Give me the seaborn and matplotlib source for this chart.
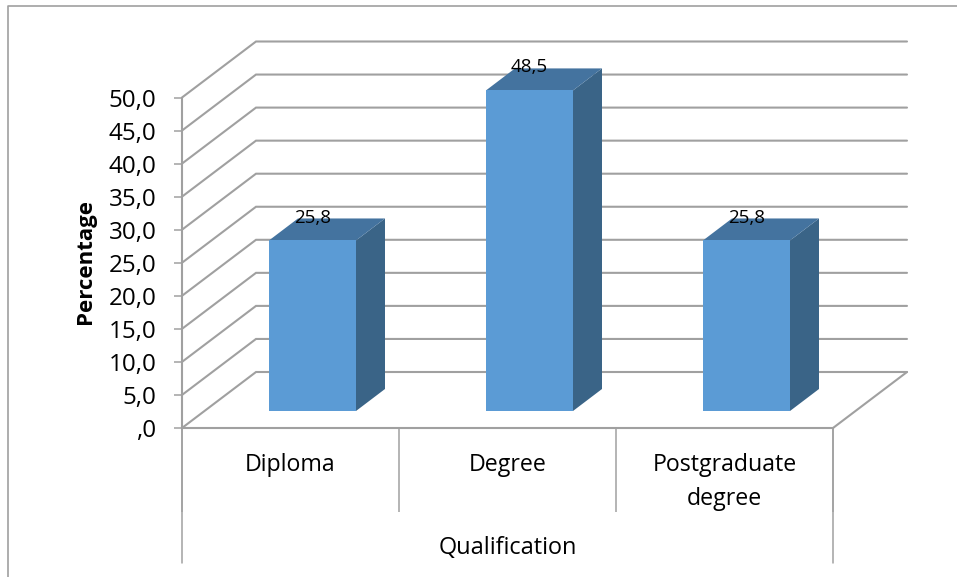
import matplotlib
matplotlib.use("Agg")
import matplotlib.pyplot as plt
from matplotlib.lines import Line2D
from matplotlib.patches import Polygon
import numpy as np
import pandas as pd
import seaborn as sns

categories = ["Diploma", "Degree", "Postgraduate\ndegree"]
values = [25.8, 48.5, 25.8]
value_labels = ["25,8", "48,5", "25,8"]
y_ticks = [0, 5, 10, 15, 20, 25, 30, 35, 40, 45, 50]
y_tick_labels = [",0", "5,0", "10,0", "15,0", "20,0", "25,0", "30,0", "35,0", "40,0", "45,0", "50,0"]
x_title = "Qualification"
y_title = "Percentage"

sns.set_theme(style="white")
plt.rcParams["font.family"] = ["Open Sans", "DejaVu Sans"]

W, H = 957, 577
GRAY = "#A0A0A0"
FRONT, TOP, SIDE = "#5B9BD5", "#44739F", "#3A6487"


def box(x0, x1, y_top, y_bot):
    return [x0 / W, 1 - y_bot / H, (x1 - x0) / W, (y_bot - y_top) / H]


fig = plt.figure(figsize=(W / 100, H / 100), dpi=100, facecolor="white")
ax = fig.add_axes(box(182, 833, 97.5, 428))
ax_bars = fig.add_axes(box(204, 855, 80.5, 411))

# chart frame
fig.add_artist(Line2D([8 / W, 8 / W, 1], [0, 1 - 5.5 / H, 1 - 5.5 / H], color=GRAY, lw=1.2))

ax.set_xlim(-0.5, 2.5)
ax.set_ylim(0, 50)
unit_x = 651 / 3
unit_y = 330.5 / 50

# wall and floor
wall_dx, wall_dy = 74 / unit_x, 56 / unit_y
for v in y_ticks:
    ax.plot([-0.5, -0.5 + wall_dx, 2.5 + wall_dx], [v, v + wall_dy, v + wall_dy],
            color=GRAY, lw=1.5, clip_on=False, zorder=1, solid_joinstyle="miter")
ax.plot([2.5, 2.5 + wall_dx], [0, wall_dy], color=GRAY, lw=1.5, clip_on=False, zorder=1)

# axis furniture
ax.set_yticks(y_ticks, y_tick_labels)
ax.set_xticks(range(len(categories)), categories)
ax.set_xticks([-0.5, 0.5, 1.5, 2.5], minor=True)
ax.tick_params(axis="y", length=5.8, width=1.1, color=GRAY, pad=12.5, labelsize=17.4, labelcolor="black", left=True)
ax.tick_params(axis="x", which="major", length=0, pad=17.8, labelsize=16.7, labelcolor="black")
ax.tick_params(axis="x", which="minor", length=60.5, width=1.1, color=GRAY, bottom=True)
for lab in ax.get_xticklabels():
    lab.set_linespacing(1.56)
for x in (-0.5, 2.5):
    ax.plot([x, x], [0, -135 / unit_y], color=GRAY, lw=1.1, clip_on=False, zorder=1)
for s in ("top", "right"):
    ax.spines[s].set_visible(False)
for s in ("left", "bottom"):
    ax.spines[s].set_color(GRAY)
    ax.spines[s].set_linewidth(1.5)
ax.set_xlabel(x_title, fontsize=16.9, color="black", va="center")
ax.xaxis.set_label_coords(0.5, (428 - 548.5) / 330.5)
ax.set_ylabel(y_title, fontsize=16, fontweight="bold", color="black", va="center")
ax.yaxis.set_label_coords((86 - 182) / 651, 0.505)

# bars
df = pd.DataFrame({"category": categories, "value": values})
sns.barplot(data=df, x="category", y="value", ax=ax_bars, color=FRONT, saturation=1,
            width=87 / unit_x, errorbar=None, zorder=3, linewidth=0, edgecolor="none")
ax_bars.set_xlim(-0.5, 2.5)
ax_bars.set_ylim(0, 50)
ax_bars.axis("off")
ax_bars.patch.set_visible(False)

depth_x, depth_y = 29 / unit_x, 22 / unit_y
for bar, label in zip(list(ax_bars.patches), value_labels):
    x0, x1 = bar.get_x(), bar.get_x() + bar.get_width()
    h = bar.get_height()
    ax_bars.add_patch(Polygon([(x1, 0), (x1 + depth_x, depth_y), (x1 + depth_x, h + depth_y), (x1, h)],
                              closed=True, fc=SIDE, ec="none", clip_on=False, zorder=2))
    ax_bars.add_patch(Polygon([(x0, h), (x0 + depth_x, h + depth_y), (x1 + depth_x, h + depth_y), (x1, h)],
                              closed=True, fc=TOP, ec="none", clip_on=False, zorder=2))
    ax_bars.annotate(label, ((x0 + x1) / 2, h), xytext=(0, 16.5),
                     textcoords="offset points", ha="center", va="center", fontsize=13.5,
                     color="black", annotation_clip=False, zorder=5)

fig.savefig("out.png", dpi=100)
